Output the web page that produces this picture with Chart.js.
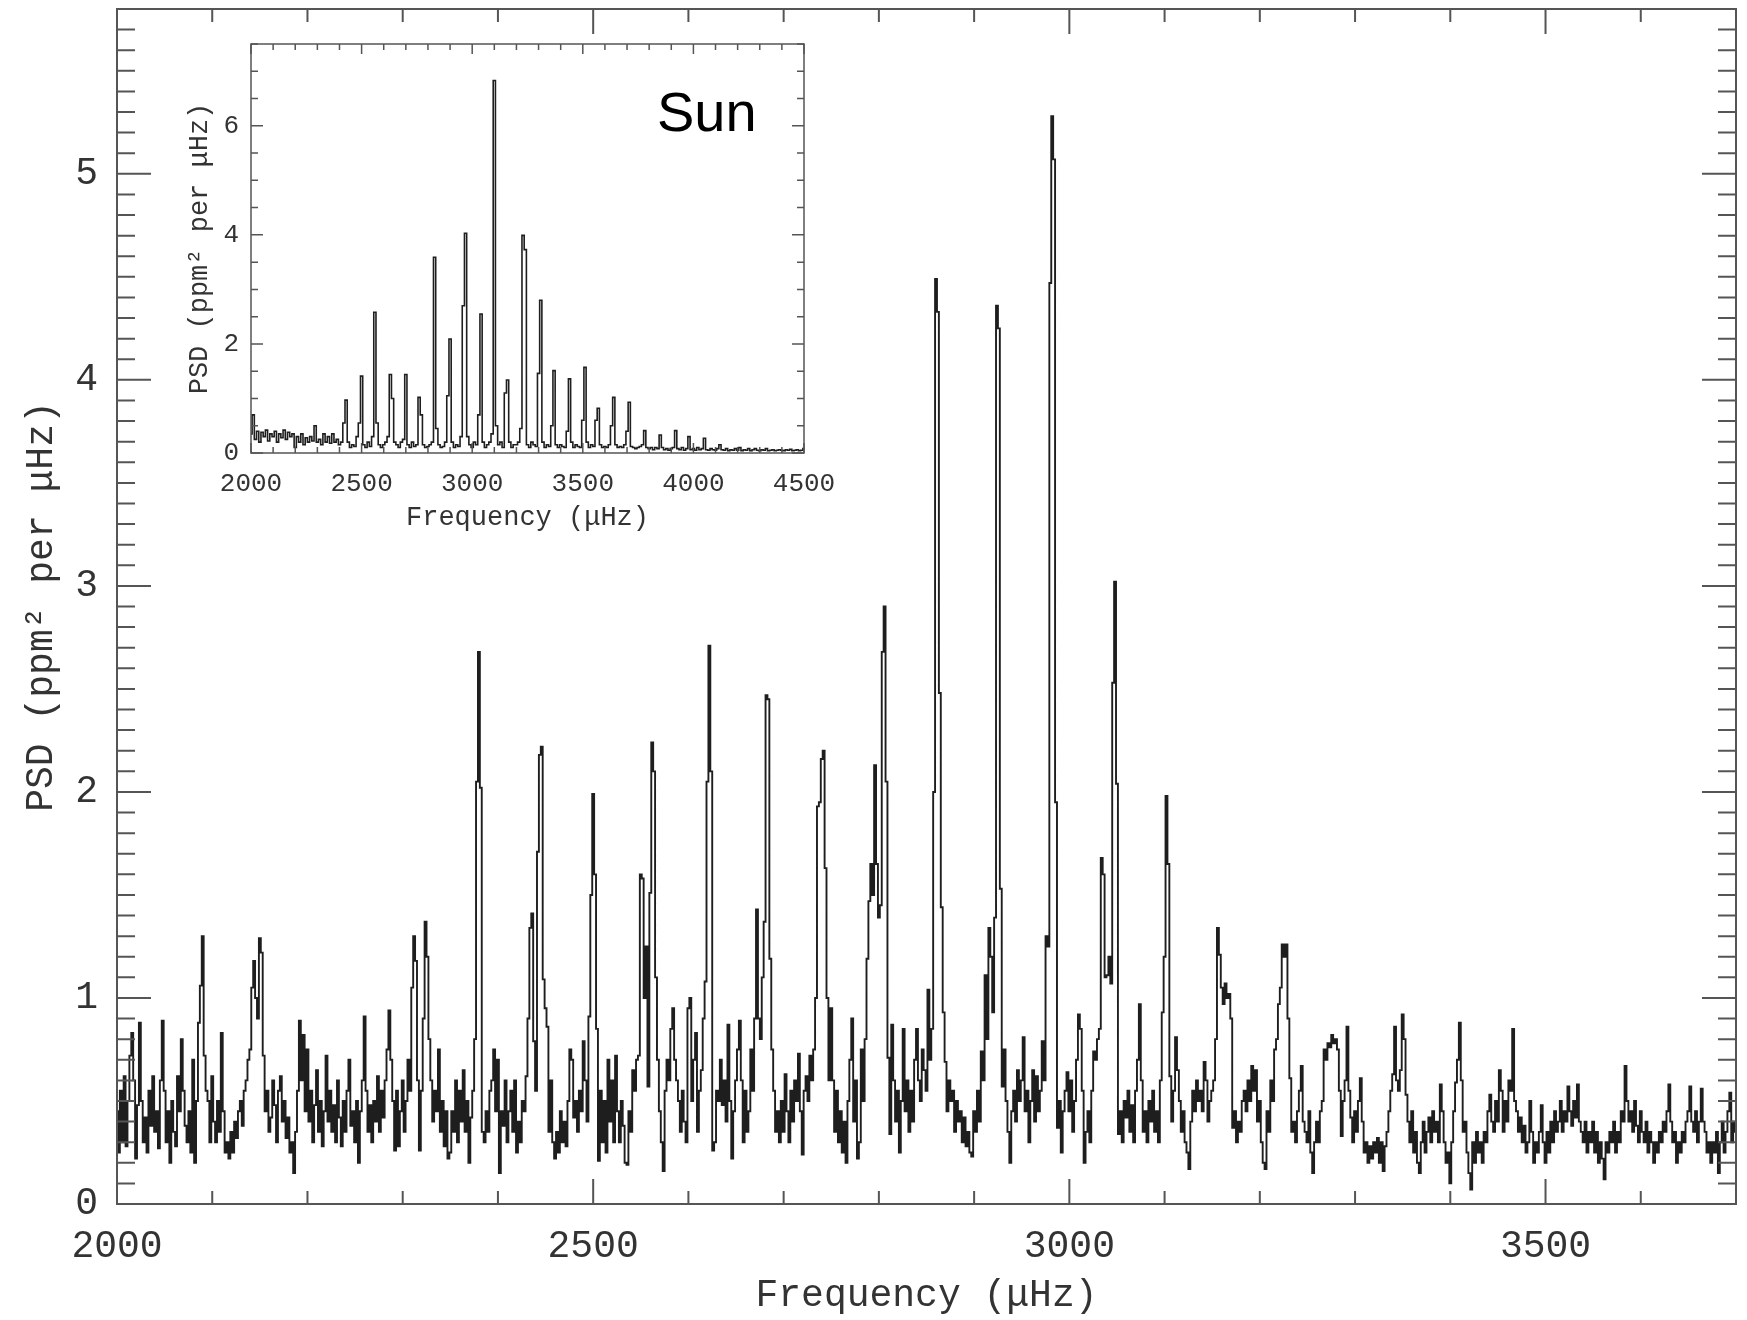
<!DOCTYPE html>
<html>
<head>
<meta charset="utf-8">
<title>Sun PSD</title>
<script src="https://cdn.jsdelivr.net/npm/chart.js@4.4.0/dist/chart.umd.min.js"></script>
<style>
  body { margin: 0; background: #fff; overflow: hidden; }
  #wrap { position: relative; width: 1747px; height: 1320px; }
  #main { position: absolute; left: 0; top: 0; }
  #inset { position: absolute; left: 160px; top: 36px; background: #fff; }
  #sun { position: absolute; left: 657px; top: 84px; font: 56px/1 "Liberation Sans", Arial, sans-serif; color: #000; }
</style>
</head>
<body>
<div id="wrap">
  <canvas id="main" width="1747" height="1320"></canvas>
  <canvas id="inset" width="680" height="514"></canvas>
  <div id="sun">Sun</div>
</div>
<script>
// main spectrum: one row per 50 uHz, 2 uHz bins, starting at 2000
const MAIN_START = 2000, MAIN_ROW = 50, MAIN_BIN = 2;
const mainRows = [
  [0.45,0.25,0.55,0.30,0.62,0.28,0.50,0.72,0.83,0.60,0.22,0.48,0.88,0.50,0.30,0.42,0.25,0.55,0.38,0.62,0.35,0.45,0.27,0.60,0.89], // 2000
  [0.55,0.30,0.45,0.20,0.50,0.35,0.28,0.62,0.45,0.80,0.55,0.38,0.30,0.45,0.25,0.70,0.20,0.50,0.88,1.06,1.30,0.72,0.55,0.50,0.30], // 2050
  [0.62,0.40,0.30,0.50,0.35,0.83,0.45,0.25,0.30,0.22,0.35,0.25,0.40,0.32,0.45,0.50,0.38,0.55,0.60,0.70,0.75,1.05,1.18,1.00,0.90], // 2100
  [1.29,1.22,0.72,0.45,0.55,0.35,0.42,0.60,0.48,0.30,0.55,0.62,0.40,0.50,0.32,0.42,0.25,0.30,0.15,0.35,0.55,0.89,0.60,0.82,0.45], // 2150
  [0.75,0.40,0.55,0.30,0.48,0.65,0.35,0.50,0.28,0.45,0.72,0.40,0.55,0.35,0.48,0.30,0.60,0.42,0.28,0.50,0.35,0.55,0.70,0.38,0.45], // 2200
  [0.30,0.50,0.20,0.45,0.60,0.91,0.55,0.35,0.48,0.30,0.50,0.40,0.62,0.35,0.55,0.42,0.60,0.75,0.94,0.70,0.50,0.26,0.55,0.28,0.45], // 2250
  [0.60,0.35,0.50,0.70,0.55,1.05,1.30,1.18,0.60,0.26,0.55,0.90,1.37,1.20,0.80,0.60,0.40,0.55,0.45,0.75,0.35,0.50,0.28,0.45,0.22], // 2300
  [0.25,0.45,0.35,0.60,0.30,0.55,0.40,0.65,0.35,0.50,0.20,0.42,0.55,0.80,2.05,2.68,2.02,0.35,0.30,0.45,0.35,0.55,0.60,0.75,0.45], // 2350
  [0.70,0.15,0.45,0.38,0.60,0.30,0.45,0.55,0.35,0.60,0.25,0.40,0.30,0.50,0.45,0.62,0.90,1.34,1.41,0.79,0.55,1.71,2.18,2.22,1.09], // 2400
  [0.95,0.86,0.35,0.60,0.30,0.22,0.35,0.25,0.45,0.30,0.40,0.28,0.50,0.75,0.70,0.42,0.50,0.35,0.55,0.45,0.79,0.60,0.40,0.91,1.50], // 2450
  [1.99,1.60,0.85,0.21,0.55,0.30,0.50,0.25,0.70,0.40,0.60,0.30,0.72,0.45,0.30,0.50,0.38,0.20,0.19,0.45,0.35,0.65,0.55,0.70,0.72], // 2500
  [1.60,1.58,1.00,1.25,0.57,1.51,2.24,2.10,1.10,0.70,0.45,0.30,0.16,0.55,0.70,0.60,0.85,0.95,0.70,0.60,0.50,0.35,0.55,0.40,0.30], // 2550
  [0.95,1.00,0.50,0.70,0.83,0.35,0.55,0.65,0.90,1.08,2.05,2.71,2.10,0.26,0.30,0.55,0.50,0.70,0.48,0.60,0.40,0.87,0.50,0.22,0.45], // 2600
  [0.60,0.75,0.89,0.60,0.30,0.55,0.35,0.45,0.75,0.55,0.90,1.43,0.90,0.80,1.10,1.37,2.47,2.45,1.19,0.75,0.55,0.35,0.45,0.30,0.50], // 2650
  [0.35,0.63,0.45,0.30,0.55,0.40,0.60,0.50,0.73,0.45,0.24,0.55,0.62,0.50,0.72,0.60,0.75,1.00,1.93,1.95,2.16,2.20,1.63,1.00,0.60], // 2700
  [0.95,0.60,0.35,0.55,0.30,0.45,0.25,0.40,0.20,0.50,0.70,0.90,0.40,0.60,0.22,0.30,0.75,0.50,0.80,1.19,1.47,1.65,1.50,2.13,1.65], // 2750
  [1.39,1.45,2.68,2.90,2.05,0.71,0.34,0.87,0.60,0.40,0.55,0.25,0.50,0.85,0.45,0.60,0.35,0.55,0.40,0.70,0.85,0.60,0.50,0.75,0.65], // 2800
  [0.55,1.04,0.70,0.85,2.00,4.49,4.33,2.48,1.44,0.93,0.69,0.45,0.60,0.50,0.55,0.35,0.50,0.40,0.45,0.30,0.42,0.28,0.35,0.25,0.23], // 2850
  [0.45,0.35,0.55,0.40,0.74,0.60,1.11,0.80,1.34,1.20,0.93,1.39,4.36,4.25,1.53,0.57,0.75,0.50,0.35,0.20,0.45,0.55,0.40,0.65,0.50], // 2900
  [0.60,0.81,0.45,0.55,0.30,0.50,0.65,0.40,0.62,0.45,0.55,0.79,0.60,1.30,1.25,4.47,5.28,5.07,1.95,0.37,0.50,0.25,0.45,0.55,0.64], // 2950
  [0.45,0.60,0.35,0.50,0.70,0.92,0.85,0.55,0.20,0.35,0.45,0.30,0.55,0.74,0.70,0.80,0.85,1.68,1.60,1.10,1.11,1.20,1.07,2.53,3.02], // 3000
  [2.04,0.34,0.45,0.30,0.50,0.42,0.55,0.35,0.48,0.30,0.55,0.70,0.97,0.60,0.35,0.45,0.30,0.50,0.40,0.55,0.35,0.45,0.30,0.60,0.93], // 3050
  [1.20,1.98,1.65,0.62,0.40,0.55,0.81,0.65,0.50,0.35,0.45,0.30,0.25,0.17,0.40,0.55,0.45,0.60,0.50,0.55,0.45,0.69,0.60,0.40,0.50], // 3100
  [0.55,0.60,0.80,1.34,1.21,1.05,0.97,1.07,1.00,1.02,0.90,0.37,0.45,0.30,0.40,0.35,0.50,0.55,0.45,0.60,0.50,0.67,0.55,0.65,0.40], // 3150
  [0.50,0.30,0.20,0.17,0.45,0.35,0.60,0.50,0.75,0.80,0.97,1.05,1.26,1.20,1.26,0.90,0.61,0.35,0.40,0.30,0.45,0.55,0.67,0.40,0.35], // 3200
  [0.30,0.45,0.25,0.15,0.30,0.40,0.30,0.45,0.50,0.75,0.70,0.78,0.76,0.82,0.78,0.80,0.75,0.55,0.33,0.50,0.60,0.86,0.55,0.42,0.30], // 3250
  [0.45,0.35,0.50,0.61,0.40,0.25,0.30,0.20,0.28,0.22,0.30,0.25,0.32,0.20,0.30,0.16,0.28,0.35,0.45,0.55,0.63,0.86,0.60,0.55,0.65], // 3300
  [0.92,0.80,0.53,0.40,0.30,0.45,0.25,0.35,0.20,0.15,0.30,0.40,0.25,0.35,0.42,0.30,0.45,0.35,0.40,0.30,0.58,0.45,0.30,0.20,0.25], // 3350
  [0.10,0.30,0.45,0.59,0.70,0.88,0.60,0.35,0.40,0.25,0.15,0.07,0.30,0.20,0.35,0.25,0.30,0.20,0.35,0.30,0.45,0.53,0.40,0.35,0.50], // 3400
  [0.40,0.65,0.55,0.35,0.50,0.40,0.60,0.55,0.85,0.50,0.45,0.35,0.42,0.30,0.38,0.25,0.30,0.50,0.35,0.20,0.30,0.25,0.35,0.48,0.30], // 3450
  [0.20,0.35,0.25,0.40,0.30,0.45,0.35,0.40,0.50,0.35,0.45,0.40,0.57,0.45,0.38,0.50,0.42,0.58,0.40,0.35,0.30,0.40,0.25,0.35,0.30], // 3500
  [0.40,0.25,0.35,0.20,0.30,0.22,0.12,0.30,0.25,0.35,0.30,0.40,0.25,0.35,0.30,0.45,0.40,0.67,0.50,0.40,0.45,0.35,0.50,0.38,0.30], // 3550
  [0.45,0.35,0.30,0.40,0.25,0.35,0.30,0.20,0.30,0.25,0.35,0.30,0.40,0.35,0.45,0.58,0.40,0.30,0.35,0.20,0.30,0.25,0.35,0.30,0.40], // 3600
  [0.45,0.57,0.40,0.35,0.45,0.30,0.40,0.56,0.40,0.35,0.25,0.30,0.20,0.30,0.25,0.35,0.15,0.30,0.40,0.25,0.35,0.45,0.54,0.30,0.40], // 3650
  [0.35]                                                                                                                           // 3700
];

// inset spectrum: one row per 100 uHz, 10 uHz bins, starting at 2000
const INSET_START = 2000, INSET_ROW = 100, INSET_BIN = 10;
const insetRows = [
  [0.35,0.70,0.25,0.40,0.20,0.38,0.30,0.42,0.22,0.35], // 2000
  [0.30,0.40,0.20,0.35,0.28,0.42,0.25,0.38,0.30,0.35], // 2100
  [0.10,0.30,0.20,0.35,0.15,0.28,0.20,0.30,0.22,0.50], // 2200
  [0.20,0.25,0.15,0.35,0.20,0.30,0.18,0.35,0.20,0.25], // 2300
  [0.15,0.20,0.55,0.97,0.20,0.10,0.15,0.12,0.30,0.55], // 2400
  [1.41,0.15,0.10,0.20,0.12,0.30,2.58,0.55,0.15,0.10], // 2500
  [0.15,0.20,0.30,1.44,1.00,0.20,0.15,0.10,0.20,0.25], // 2600
  [1.44,0.15,0.10,0.20,0.12,0.15,1.02,0.70,0.15,0.10], // 2700
  [0.12,0.15,0.20,3.59,0.45,0.15,0.10,0.12,0.20,1.05], // 2800
  [2.09,0.20,0.10,0.15,0.12,0.30,2.70,4.03,0.30,0.15], // 2900
  [0.10,0.20,0.15,0.70,2.55,0.20,0.10,0.15,0.20,0.35], // 3000
  [6.83,0.50,0.15,0.20,0.10,1.10,1.34,0.20,0.10,0.15], // 3100
  [0.15,0.20,0.45,3.99,3.73,0.15,0.10,0.20,0.15,0.12], // 3200
  [1.46,2.80,0.20,0.10,0.15,0.12,0.50,1.51,0.15,0.10], // 3300
  [0.15,0.12,0.10,0.40,1.36,0.20,0.10,0.15,0.12,0.10], // 3400
  [0.60,1.57,0.20,0.10,0.15,0.12,0.60,0.82,0.15,0.10], // 3500
  [0.12,0.10,0.15,0.50,1.02,0.15,0.10,0.12,0.10,0.15], // 3600
  [0.40,0.93,0.12,0.10,0.08,0.10,0.12,0.15,0.41,0.10], // 3700
  [0.08,0.10,0.06,0.10,0.08,0.33,0.10,0.06,0.08,0.05], // 3800
  [0.08,0.10,0.41,0.08,0.06,0.10,0.05,0.08,0.30,0.06], // 3900
  [0.08,0.05,0.10,0.06,0.08,0.27,0.06,0.05,0.08,0.06], // 4000
  [0.05,0.08,0.15,0.06,0.05,0.08,0.04,0.06,0.05,0.08], // 4100
  [0.05,0.10,0.04,0.06,0.05,0.08,0.04,0.06,0.08,0.05], // 4200
  [0.04,0.06,0.05,0.08,0.04,0.05,0.06,0.04,0.05,0.06], // 4300
  [0.05,0.04,0.06,0.05,0.07,0.04,0.05,0.06,0.04,0.05], // 4400
  [0.08]                                               // 4500
];

const mainXTicks = [2000, 2500, 3000, 3500];
const mainYTicks = [0, 1, 2, 3, 4, 5];
const insetXTicks = [2000, 2500, 3000, 3500, 4000, 4500];
const insetYTicks = [0, 2, 4, 6];

function toPoints(start, rowSpan, bin, rows) {
  const pts = [];
  rows.forEach((row, r) => {
    row.forEach((v, j) => pts.push({ x: start + r * rowSpan + j * bin, y: v }));
  });
  return pts;
}

Chart.defaults.font.family = "'Liberation Mono', 'DejaVu Sans Mono', monospace";
Chart.defaults.color = '#333';

// frame + inward ticks on all four sides
const frameTicks = {
  id: 'frameTicks',
  afterDatasetsDraw(chart, args, o) {
    const { ctx, chartArea: a, scales: { x, y } } = chart;
    const isMajor = (v, m) => Math.abs(v / m - Math.round(v / m)) < 1e-6;
    ctx.save();
    ctx.strokeStyle = o.color;
    ctx.lineWidth = o.width;
    ctx.beginPath();
    for (let i = Math.ceil(x.min / o.xMinor - 1e-9); i <= Math.floor(x.max / o.xMinor + 1e-9); i++) {
      const v = i * o.xMinor;
      const px = x.getPixelForValue(v);
      const len = isMajor(v, o.xMajor) ? o.xMajLen : o.xMinLen;
      ctx.moveTo(px, a.bottom); ctx.lineTo(px, a.bottom - len);
      ctx.moveTo(px, a.top); ctx.lineTo(px, a.top + len);
    }
    for (let i = Math.ceil(y.min / o.yMinor - 1e-9); i <= Math.floor(y.max / o.yMinor + 1e-9); i++) {
      const v = i * o.yMinor;
      const py = y.getPixelForValue(v);
      const len = isMajor(v, o.yMajor) ? o.yMajLen : o.yMinLen;
      ctx.moveTo(a.left, py); ctx.lineTo(a.left + len, py);
      ctx.moveTo(a.right, py); ctx.lineTo(a.right - len, py);
    }
    ctx.stroke();
    ctx.strokeRect(a.left, a.top, a.right - a.left, a.bottom - a.top);
    ctx.restore();
  }
};

const setTicks = list => s => { s.ticks = list.map(v => ({ value: v })); };
const plain = v => String(v);
// fixed axis boxes, no extra label overflow padding
const fixX = h => s => { s.height = h; s.paddingLeft = 0; s.paddingRight = 0; };
const fixY = w => s => { s.width = w; s.paddingTop = 0; s.paddingBottom = 0; };

//MAIN CHART
new Chart(document.getElementById('main'), {
  type: 'line',
  data: {
    datasets: [{
      data: toPoints(MAIN_START, MAIN_ROW, MAIN_BIN, mainRows),
      borderColor: '#1e1e1e',
      borderWidth: 1.9,
      pointRadius: 0,
      stepped: 'middle',
      fill: false
    }]
  },
  options: {
    responsive: false,
    animation: false,
    devicePixelRatio: 1,
    layout: { padding: { top: 9, right: 11, left: 0, bottom: 0 } },
    plugins: {
      legend: { display: false },
      tooltip: { enabled: false },
      frameTicks: { color: '#555', width: 2, xMinor: 100, xMajor: 500, xMajLen: 25, xMinLen: 13,
                    yMinor: 0.1, yMajor: 1, yMajLen: 34, yMinLen: 18 }
    },
    scales: {
      x: {
        type: 'linear', min: 2000, max: 3700,
        afterBuildTicks: setTicks(mainXTicks),
        afterFit: fixX(116),
        grid: { display: false, drawTicks: false },
        border: { display: false },
        ticks: { font: { size: 38 }, color: '#333', padding: 20, maxRotation: 0, autoSkip: false, callback: plain },
        title: { display: true, text: 'Frequency (μHz)', font: { size: 38 }, color: '#333', padding: { top: 0, bottom: 1 } }
      },
      y: {
        type: 'linear', min: 0, max: 5.8,
        afterBuildTicks: setTicks(mainYTicks),
        afterFit: fixY(117),
        grid: { display: false, drawTicks: false },
        border: { display: false },
        ticks: { font: { size: 38 }, color: '#333', padding: 19, autoSkip: false, callback: plain },
        title: { display: true, text: 'PSD (ppm² per μHz)', font: { size: 38 }, color: '#333', padding: { top: 19, bottom: 0 } }
      }
    }
  },
  plugins: [frameTicks]
});

//INSET CHART
new Chart(document.getElementById('inset'), {
  type: 'line',
  data: {
    datasets: [{
      data: toPoints(INSET_START, INSET_ROW, INSET_BIN, insetRows),
      borderColor: '#1e1e1e',
      borderWidth: 1.6,
      pointRadius: 0,
      stepped: 'middle',
      fill: false
    }]
  },
  options: {
    responsive: false,
    animation: false,
    devicePixelRatio: 1,
    layout: { padding: { top: 8, right: 36, left: 0, bottom: 0 } },
    plugins: {
      legend: { display: false },
      tooltip: { enabled: false },
      frameTicks: { color: '#555', width: 1.5, xMinor: 100, xMajor: 500, xMajLen: 10, xMinLen: 6,
                    yMinor: 0.5, yMajor: 2, yMajLen: 12, yMinLen: 7 }
    },
    scales: {
      x: {
        type: 'linear', min: 2000, max: 4500,
        afterBuildTicks: setTicks(insetXTicks),
        afterFit: fixX(97),
        grid: { display: false, drawTicks: false },
        border: { display: false },
        ticks: { font: { size: 26 }, color: '#333', padding: 16, maxRotation: 0, autoSkip: false, callback: plain },
        title: { display: true, text: 'Frequency (μHz)', font: { size: 27 }, color: '#333', padding: { top: 0, bottom: 16 } }
      },
      y: {
        type: 'linear', min: 0, max: 7.5,
        afterBuildTicks: setTicks(insetYTicks),
        afterFit: fixY(91),
        grid: { display: false, drawTicks: false },
        border: { display: false },
        ticks: { font: { size: 26 }, color: '#333', padding: 12, autoSkip: false, callback: plain },
        title: { display: true, text: 'PSD (ppm² per μHz)', font: { size: 27 }, color: '#333', padding: { top: 24, bottom: 0 } }
      }
    }
  },
  plugins: [frameTicks]
});
</script>
</body>
</html>
